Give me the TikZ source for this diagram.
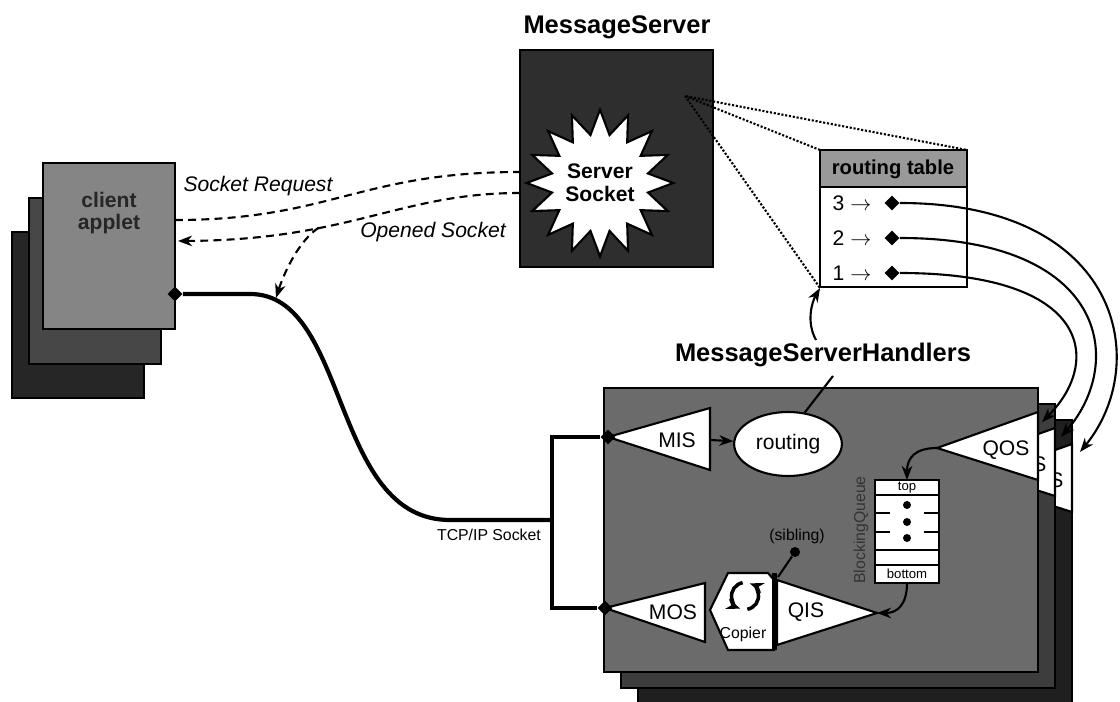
\documentclass[tikz,border=0pt]{standalone}
\usepackage{fontspec}
\setmainfont{Liberation Sans}
\usetikzlibrary{shapes.geometric,positioning,arrows.meta}
\begin{document}
\begin{tikzpicture}[x=0.02cm, y=-0.02cm, >={Stealth[length=8pt,width=6pt,inset=2.5pt]},
  port/.style={diamond, fill=black, inner sep=0pt, minimum size=0.3cm},
  lbl/.style={font=\fontsize{12}{14}\selectfont},
  small/.style={font=\fontsize{9}{10}\selectfont},
  title/.style={font=\bfseries\fontsize{14.5}{16}\selectfont},
  msg/.style={very thick, dash pattern=on 4.5pt off 3pt},
  tri/.style={draw, very thick, fill=white}]
\useasboundingbox (0,0) rectangle (1120,702);

\foreach \x/\y/\c in {12/232/black!85, 29/198/black!72, 43/163/black!48}
  \filldraw[fill=\c, very thick] (\x,\y) rectangle +(132,166);
\node[font=\bfseries\fontsize{12}{13}\selectfont, align=center, text=black!85] (client) at (109,213) {client\\applet};
\node[port] (cport) at (175,294) {};

\filldraw[fill=black!82, very thick] (520,50) rectangle (713,267);
\node[title] (ms) at (617,27) {MessageServer};
\node[star, star points=16, star point ratio=1.5, minimum size=2.65cm, inner sep=0pt,
  draw, very thick, fill=white, align=center, font=\bfseries\fontsize{12}{13}\selectfont] (sock) at (600,183) {Server\\Socket};

\coordinate (reqC) at (175,220);
\coordinate (reqS) at (520,172);
\coordinate (opnC) at (178,241);
\coordinate (opnS) at (520,193);
\coordinate (hit) at (276,298);
\draw[msg] (reqC) .. controls (330,220) and (360,172) .. (reqS);
\draw[msg,->] (opnS) .. controls (400,193) and (350,240) .. coordinate[pos=0.66] (split) (opnC);
\draw[msg,->] (split) .. controls (300,240) and (285,270) .. (hit);
\node[font=\itshape\fontsize{12}{14}\selectfont] (req) at (258,186) {Socket Request};
\node[font=\itshape\fontsize{12}{14}\selectfont] (opn) at (433,232) {Opened Socket};

\coordinate (focus) at (685,96);
\draw[very thick, fill=black!40] (820,150) rectangle (967,187);
\draw[very thick, fill=white] (820,187) rectangle (967,287);
\node[font=\bfseries\fontsize{11.5}{13}\selectfont] (rt) at (893,169) {routing table};
\coordinate (tl) at (820,150);
\coordinate (tr) at (967,150);
\coordinate (bl) at (820,288);
\draw[densely dotted, very thick] (tl) -- (focus) -- (tr) (focus) -- (bl);
\foreach \n/\y in {3/203, 2/238, 1/273} {
  \node[lbl] (row\n) at (852,\y) {\n\ $\to$};
  \node[port] (d\n) at (892,\y) {};
}

\node[title] (msh) at (823,355) {MessageServerHandlers};
\coordinate (mshtop) at (816,340);
\draw[->, very thick] (mshtop) .. controls (806,322) and (812,302) .. (bl);

\foreach \dx/\dy/\c in {34/32/black!88, 17/16/black!76, 0/0/black!58} {
  \filldraw[fill=\c, very thick, shift={(\dx,\dy)}] (604,388) rectangle (1038,672);
  \filldraw[tri, shift={(\dx,\dy)}] (937,448) -- (1038,412) -- (1038,480) -- cycle;
  \node[lbl] (qos\dx) at (1006+\dx,450+\dy) {QOS};
}

\coordinate (q1) at (1042,422);
\coordinate (q2) at (1061,437);
\coordinate (q3) at (1080,452);
\draw[->, very thick] (d1) .. controls +(200,0) and +(60,-60) .. (q1);
\draw[->, very thick] (d2) .. controls +(215,0) and +(65,-75) .. (q2);
\draw[->, very thick] (d3) .. controls +(230,0) and +(72,-88) .. (q3);

\filldraw[tri] (608,437) -- (710,408) -- (710,470) -- cycle;
\node[lbl] (mis) at (677,440) {MIS};
\node[port] (misport) at (608,437) {};
\filldraw[tri] (605,608) -- (705,583) -- (705,642) -- cycle;
\node[lbl] (mos) at (673,612) {MOS};
\node[port] (mosport) at (605,608) {};

\node[ellipse, draw, very thick, fill=white, minimum width=1.8cm, minimum height=1.28cm, lbl] (route) at (788,444) {routing};
\coordinate (misout) at (710,440);
\draw[->, very thick] (misout) -- (route);
\draw[very thick] (833,376) -- (route.62);

\coordinate (tcp) at (552,520);
\draw[line width=2.4pt] (cport) -- (250,294) .. controls (350,294) and (330,520) .. (450,520) -- (tcp);
\draw[line width=2.4pt] (misport) -| (tcp) |- (mosport);
\node[small, anchor=north east] (tcplbl) at (547,523) {TCP/IP Socket};

\filldraw[very thick, fill=white] (710,610) -- (728,573) -- (768,573) -- (774,580) -- (774,650) -- (728,650) -- cycle;
\draw[line width=2pt, ->] (745,596) ++(100:0.27cm) arc[start angle=100, end angle=250, radius=0.27cm];
\draw[line width=2pt, ->] (745,596) ++(280:0.27cm) arc[start angle=280, end angle=430, radius=0.27cm];
\node[small] (copier) at (743,634) {Copier};
\fill (772,573) rectangle (777,650);
\filldraw[tri] (777,580) -- (877,613) -- (777,645) -- cycle;
\node[lbl] (qis) at (806,612) {QIS};

\node[circle, fill=black, inner sep=0pt, minimum size=0.2cm] (sib) at (795,552) {};
\node[small] (siblbl) at (797,536) {(sibling)};
\coordinate (copytop) at (778,577);
\draw[very thick] (sib) -- (copytop);

\draw[very thick, fill=white] (875,480) rectangle (939,583);
\draw[very thick] (875,495) -- (939,495) (875,550) -- (939,550) (875,565) -- (939,565);
\foreach \y in {513,532}
  \draw[very thick] (875,\y) -- +(15,0) (939,\y) -- +(-15,0);
\foreach \y in {505,522,538}
  \fill (907,\y) circle[radius=0.08cm];
\node[font=\fontsize{7.5}{8}\selectfont] (top) at (907,488) {top};
\node[font=\fontsize{7.5}{8}\selectfont] (bottom) at (907,574) {bottom};
\node[small, rotate=90, text=black!80] (bq) at (861,530) {BlockingQueue};

\coordinate (qostip) at (937,448);
\coordinate (qtop) at (907,480);
\coordinate (qbot) at (907,583);
\coordinate (qistip) at (877,613);
\draw[->, very thick] (qostip) .. controls (915,448) and (907,458) .. (qtop);
\draw[->, very thick] (qbot) .. controls (907,605) and (897,613) .. (qistip);
\end{tikzpicture}
\end{document}
